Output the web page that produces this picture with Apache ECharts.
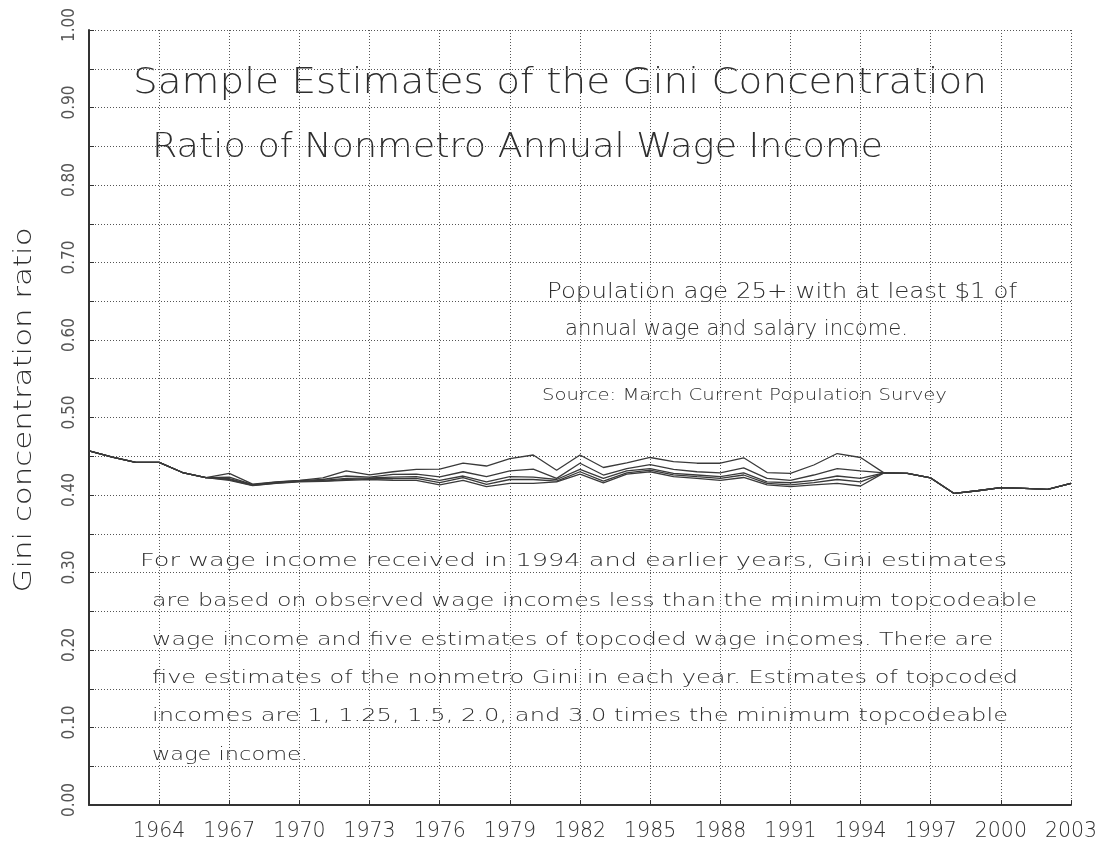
<!DOCTYPE html>
<html><head><meta charset="utf-8">
<script src="https://cdn.jsdelivr.net/npm/echarts@6/dist/echarts.min.js"></script>
<style>html,body{margin:0;padding:0;background:#fff}#c{width:1104px;height:843px}</style>
</head><body><div id="c"></div>
<script>
// ---- data ----
const years = ['1961','1962','1963','1964','1965','1966','1967','1968','1969','1970',
  '1971','1972','1973','1974','1975','1976','1977','1978','1979','1980',
  '1981','1982','1983','1984','1985','1986','1987','1988','1989','1990',
  '1991','1992','1993','1994','1995','1996','1997','1998','1999','2000',
  '2001','2002','2003'];
// single estimate years 1961-1966
const commonEarly = [0.457, 0.449, 0.442, 0.442, 0.429, 0.4225];
// five estimates 1967-1994 (topcode multipliers 3.0, 2.0, 1.5, 1.25, 1)
const est1 = [0.428,0.414,0.417,0.419,0.422,0.431,0.426,0.430,0.433,0.4335,0.441,0.4374,0.447,0.4516,0.432,0.4516,0.4355,0.4415,0.4484,0.443,0.441,0.441,0.448,0.429,0.428,0.4387,0.4535,0.4484];
const est2 = [0.423,0.4135,0.4165,0.4185,0.420,0.4245,0.423,0.4266,0.427,0.4235,0.430,0.4236,0.431,0.4335,0.4215,0.441,0.4258,0.434,0.4393,0.433,0.430,0.4286,0.435,0.4215,0.419,0.4258,0.434,0.431];
const est3 = [0.421,0.413,0.416,0.418,0.419,0.4215,0.422,0.423,0.4236,0.419,0.4245,0.417,0.4236,0.423,0.420,0.433,0.4215,0.431,0.434,0.428,0.4258,0.4236,0.4286,0.417,0.4158,0.419,0.4245,0.4215];
const est4 = [0.420,0.4125,0.4155,0.4175,0.418,0.420,0.421,0.421,0.4215,0.416,0.4223,0.4138,0.420,0.420,0.418,0.430,0.418,0.4286,0.432,0.426,0.4236,0.4215,0.4258,0.415,0.413,0.416,0.420,0.417];
const est5 = [0.419,0.412,0.415,0.417,0.4175,0.419,0.420,0.419,0.419,0.413,0.419,0.4107,0.415,0.415,0.417,0.427,0.4157,0.427,0.430,0.4236,0.4215,0.419,0.4226,0.413,0.4107,0.413,0.415,0.4116];
// single estimate years 1995-2003
const commonLate = [0.4286, 0.428, 0.422, 0.402, 0.4055, 0.4095, 0.4086, 0.4073, 0.415];
const yTicks = [0,0.1,0.2,0.3,0.4,0.5,0.6,0.7,0.8,0.9,1.0];

const FONT = '"DejaVu Sans", sans-serif';
const NARROW = '"Liberation Sans Narrow", "DejaVu Sans Condensed", sans-serif';
const WEIGHT = 200;
const INK = '#2e2e2e';

const chart = echarts.init(document.getElementById('c'), null, {renderer:'canvas'});
const mctx = document.createElement('canvas').getContext('2d');
function fitText(text, x, baseline, width, capH) {
  const fs = capH / 0.73;
  const font = WEIGHT + ' ' + fs.toFixed(2) + 'px ' + FONT;
  mctx.font = font;
  const w = mctx.measureText(text).width;
  return {type:'text', x:x, y: baseline - 0.36*fs, scaleX: width / w, silent:true,
    style:{text:text, x:0, y:0, font:font, fill:INK, align:'left', verticalAlign:'middle'}};
}
function fitVertical(text, cx, cy, length, capH) {
  const fs = capH / 0.73;
  const font = WEIGHT + ' ' + fs.toFixed(2) + 'px ' + FONT;
  mctx.font = font;
  const w = mctx.measureText(text).width;
  return {type:'text', x:cx, y:cy, rotation:Math.PI/2, scaleX: length / w, silent:true,
    style:{text:text, x:0, y:0, font:font, fill:INK, align:'center', verticalAlign:'middle'}};
}

const series = [est1, est2, est3, est4, est5].map(e => ({
  type:'line', data: commonEarly.concat(e, commonLate), symbol:'none',
  lineStyle:{color:'#3a3a3a', width:1.3}, animation:false, silent:true
}));

const yearTick = (i) => i > 0 && i % 3 === 0;

chart.setOption({
  backgroundColor:'#fff',
  animation:false,
  grid:{left:89, right:33, top:30, bottom:38, containLabel:false},
  xAxis:{type:'category', data:years, boundaryGap:false,
    axisLine:{lineStyle:{color:'#333', width:2}},
    axisTick:{show:true, inside:true, length:5, interval:yearTick, lineStyle:{color:'#333'}},
    axisLabel:{interval:yearTick, margin:16, color:INK, fontFamily:FONT, fontWeight:WEIGHT, fontSize:20.5},
    splitLine:{show:true, interval:yearTick, lineStyle:{color:'#555', type:[1,2], width:1}}
  },
  yAxis:{type:'value', min:0, max:1, interval:0.1,
    axisLine:{show:true, lineStyle:{color:'#333', width:2}},
    axisTick:{show:true, inside:true, length:5, lineStyle:{color:'#333'}},
    minorTick:{show:true, splitNumber:2, length:5, lineStyle:{color:'#333'}},
    axisLabel:{rotate:90, align:'center', verticalAlign:'middle', margin:19, color:'#555',
      fontFamily:NARROW, fontSize:17, padding:[0,0,0,10],
      formatter:(v)=> yTicks.indexOf(Math.round(v*10)/10) >= 0 ? v.toFixed(2) : ''},
    splitLine:{show:true, lineStyle:{color:'#555', type:[1,2], width:1}},
    minorSplitLine:{show:true, lineStyle:{color:'#555', type:[1,2], width:1}}
  },
  series: series,
  graphic: [
    fitVertical('Gini concentration ratio', 25, 410, 365, 18),
    fitText('Sample Estimates of the Gini Concentration', 133, 97, 854, 26),
    fitText('Ratio of Nonmetro Annual Wage Income', 152, 160, 731, 25),
    fitText('Population age 25+ with at least $1 of', 547, 300, 470, 15),
    fitText('annual wage and salary income.', 565, 337, 343, 15),
    fitText('Source: March Current Population Survey', 542, 402, 405, 12),
    fitText('For wage income received in 1994 and earlier years, Gini estimates', 140, 568, 867, 13.5),
    fitText('are based on observed wage incomes less than the minimum topcodeable', 152, 608, 885, 13.5),
    fitText('wage income and five estimates of topcoded wage incomes. There are', 152, 647, 841, 13.5),
    fitText('five estimates of the nonmetro Gini in each year. Estimates of topcoded', 152, 685, 866, 13.5),
    fitText('incomes are 1, 1.25, 1.5, 2.0, and 3.0 times the minimum topcodeable', 152, 723, 856, 13.5),
    fitText('wage income.', 152, 762, 156, 13.5)
  ]
});
</script></body></html>
